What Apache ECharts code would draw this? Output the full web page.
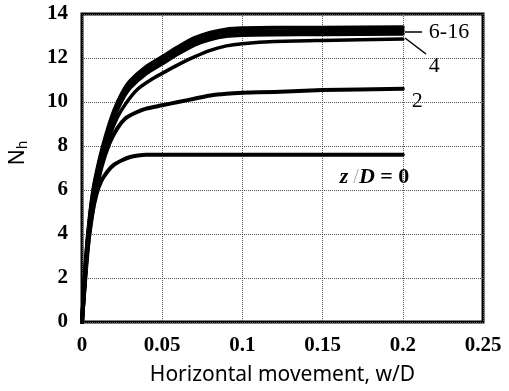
<!DOCTYPE html>
<html>
<head>
<meta charset="utf-8">
<script src="https://cdn.jsdelivr.net/npm/echarts@6/dist/echarts.min.js"></script>
<style>html,body{margin:0;padding:0;background:#fff}#c{width:509px;height:391px}</style>
</head>
<body>
<div id="c"></div>
<script>
// Horizontal movement w/D values and N_h readings per curve
const curve16 = [[0,0],[0.002,2.4],[0.004,4.2],[0.007,6.0],[0.011,7.4],[0.015,8.5],[0.02,9.6],[0.025,10.4],[0.03,10.95],[0.04,11.6],[0.05,12.05],[0.06,12.5],[0.07,12.9],[0.08,13.15],[0.09,13.3],[0.1,13.35],[0.12,13.38],[0.15,13.38],[0.2,13.4]];
const curve10 = [[0,0],[0.002,2.3],[0.004,4.1],[0.007,5.9],[0.011,7.3],[0.015,8.35],[0.02,9.45],[0.025,10.25],[0.03,10.8],[0.04,11.45],[0.05,11.9],[0.06,12.35],[0.07,12.75],[0.08,13.0],[0.09,13.15],[0.1,13.2],[0.12,13.22],[0.15,13.23],[0.2,13.25]];
const curve6 = [[0,0],[0.002,2.2],[0.004,4.0],[0.007,5.8],[0.011,7.2],[0.015,8.2],[0.02,9.3],[0.025,10.1],[0.03,10.65],[0.04,11.3],[0.05,11.75],[0.06,12.2],[0.07,12.6],[0.08,12.85],[0.09,13.0],[0.1,13.05],[0.12,13.07],[0.15,13.08],[0.2,13.1]];
const curve4 = [[0,0],[0.004,3.8],[0.008,5.8],[0.012,7.2],[0.017,8.4],[0.022,9.3],[0.028,10.0],[0.035,10.6],[0.045,11.1],[0.05,11.3],[0.06,11.7],[0.07,12.05],[0.08,12.35],[0.09,12.55],[0.1,12.65],[0.12,12.75],[0.15,12.8],[0.2,12.86]];
const curve2 = [[0,0],[0.004,3.6],[0.008,5.6],[0.012,7.0],[0.017,8.1],[0.022,8.8],[0.027,9.25],[0.033,9.5],[0.04,9.7],[0.05,9.85],[0.06,10.0],[0.07,10.15],[0.08,10.3],[0.09,10.38],[0.1,10.42],[0.12,10.46],[0.15,10.54],[0.2,10.6]];
const curve0 = [[0,0],[0.003,3.0],[0.006,4.8],[0.009,5.8],[0.012,6.4],[0.016,6.85],[0.02,7.15],[0.025,7.35],[0.03,7.5],[0.035,7.57],[0.04,7.6],[0.1,7.6],[0.2,7.6]];
const xTickLabels = ['0','0.05','0.1','0.15','0.2','0.25'];
const yTicks = [0,2,4,6,8,10,12,14];

const chart = echarts.init(document.getElementById('c'));
const serif = '"Liberation Serif", "DejaVu Serif", serif';
const sans = '"Noto Sans", "Open Sans", sans-serif';
function line(name, data, width, endLabel) {
  const s = {
    name, type: 'line', data, showSymbol: false, symbol: 'none',
    smooth: 0.25,
    lineStyle: { color: '#000', width: width, join: 'round', cap: 'round' },
    z: 3
  };
  if (endLabel) s.endLabel = Object.assign({ show: true, color: '#000', fontFamily: serif, fontSize: 22 }, endLabel);
  return s;
}
chart.setOption({
  animation: false,
  backgroundColor: '#fff',
  grid: { left: 82, right: 26, top: 14, bottom: 66, show: true, borderColor: '#000', borderWidth: 3, containLabel: false },
  xAxis: {
    type: 'value', min: 0, max: 0.25, interval: 0.05,
    axisLine: { show: false }, axisTick: { show: false },
    splitLine: { show: true, lineStyle: { type: 'dotted', color: '#555', width: 1 } },
    axisLabel: { margin: 13, color: '#000', fontFamily: serif, fontWeight: 'bold', fontSize: 21,
      formatter: (v) => xTickLabels[Math.round(v / 0.05)] },
    name: 'Horizontal movement, w/D', nameLocation: 'middle', nameGap: 43,
    nameTextStyle: { color: '#000', fontFamily: sans, fontSize: 21 }
  },
  yAxis: {
    type: 'value', min: 0, max: 14, interval: 2,
    axisLine: { show: false }, axisTick: { show: false },
    splitLine: { show: true, lineStyle: { type: 'dotted', color: '#555', width: 1 } },
    axisLabel: { margin: 14, color: '#000', fontFamily: serif, fontWeight: 'bold', fontSize: 21,
      formatter: (v) => yTicks.includes(v) ? String(v) : '' },
    name: '{n|N}{s|h}', nameLocation: 'middle', nameGap: 52, nameRotate: 90,
    nameTextStyle: { color: '#000', fontFamily: sans, fontSize: 21, padding: [0, 0, 0, 30],
      rich: { n: { fontFamily: sans, fontSize: 21, color: '#000' }, s: { fontFamily: sans, fontSize: 14, color: '#000', verticalAlign: 'bottom', padding: [9,0,0,0] } } }
  },
  series: [
    line('z/D=16', curve16, 4, { formatter: '6-16', offset: [18, 5] }),
    line('z/D=10', curve10, 4),
    line('z/D=6', curve6, 4),
    line('z/D=4', curve4, 3.5, { formatter: '4', offset: [18, 27] }),
    line('z/D=2', curve2, 4, { formatter: '2', offset: [1, 12] }),
    line('z/D=0', curve0, 4, { formatter: '{i|z}{sl| /}{i|D}{t| = 0}', offset: [-71, 23],
      rich: { i: { fontFamily: serif, fontStyle: 'italic', fontWeight: 'bold', fontSize: 22, color: '#000' },
              sl: { fontFamily: serif, fontSize: 20, color: '#aaa' },
              t: { fontFamily: serif, fontWeight: 'bold', fontSize: 22, color: '#000' } } })
  ],
  graphic: [
    { type: 'line', shape: { x1: 405, y1: 32, x2: 422, y2: 32 }, style: { stroke: '#000', lineWidth: 1.5 }, z: 10 },
    { type: 'line', shape: { x1: 405, y1: 38, x2: 426, y2: 54 }, style: { stroke: '#000', lineWidth: 1.5 }, z: 10 }
  ]
});
</script>
</body>
</html>
